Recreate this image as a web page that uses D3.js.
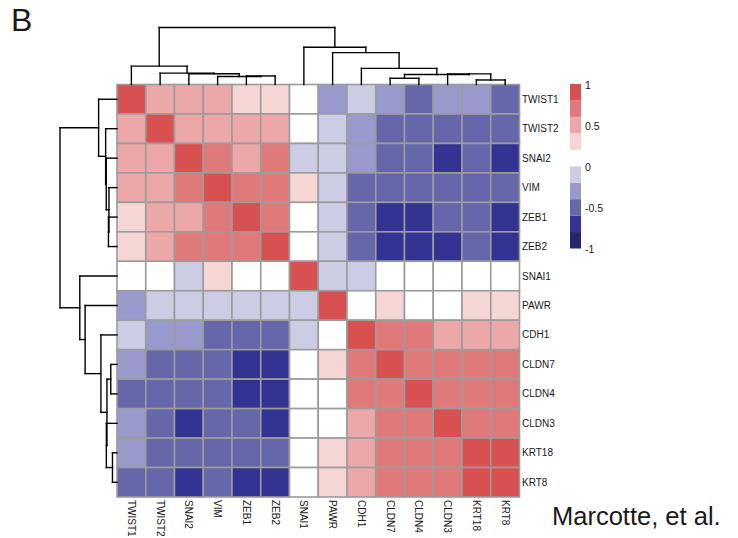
<!DOCTYPE html>
<html>
<head>
<meta charset="utf-8">
<script src="https://cdn.jsdelivr.net/npm/d3@7"></script>
<style>
  body { margin: 0; background: #fff; }
  svg { font-family: 'Liberation Sans', Arial, Helvetica, sans-serif; }
  .lbl { font-size: 10px; fill: #1a1a1a; }
</style>
</head>
<body>
<div id="heat"></div>
<script>
// gene order after clustering (rows and columns are the same)
const genes = ['TWIST1', 'TWIST2', 'SNAI2', 'VIM', 'ZEB1', 'ZEB2', 'SNAI1',
  'PAWR', 'CDH1', 'CLDN7', 'CLDN4', 'CLDN3', 'KRT18', 'KRT8']

// correlation matrix, read as the middle of each colour bin
const corr = [
  [1.0, 0.5, 0.5, 0.5, 0.3, 0.3, 0.1, -0.3, -0.1, -0.3, -0.5, -0.3, -0.3, -0.5],
  [0.5, 1.0, 0.5, 0.5, 0.5, 0.5, 0.1, -0.1, -0.3, -0.5, -0.5, -0.5, -0.5, -0.5],
  [0.5, 0.5, 1.0, 0.7, 0.5, 0.7, -0.1, -0.1, -0.3, -0.5, -0.5, -0.7, -0.5, -0.7],
  [0.5, 0.5, 0.7, 1.0, 0.7, 0.7, 0.3, -0.1, -0.5, -0.5, -0.5, -0.5, -0.5, -0.5],
  [0.3, 0.5, 0.5, 0.7, 1.0, 0.7, 0.1, -0.1, -0.5, -0.7, -0.7, -0.5, -0.5, -0.7],
  [0.3, 0.5, 0.7, 0.7, 0.7, 1.0, 0.1, -0.1, -0.5, -0.7, -0.7, -0.7, -0.5, -0.7],
  [0.1, 0.1, -0.1, 0.3, 0.1, 0.1, 1.0, -0.1, -0.1, 0.1, 0.1, 0.1, 0.1, 0.1],
  [-0.3, -0.1, -0.1, -0.1, -0.1, -0.1, -0.1, 1.0, 0.1, 0.3, 0.1, 0.1, 0.3, 0.3],
  [-0.1, -0.3, -0.3, -0.5, -0.5, -0.5, -0.1, 0.1, 1.0, 0.7, 0.7, 0.5, 0.5, 0.5],
  [-0.3, -0.5, -0.5, -0.5, -0.7, -0.7, 0.1, 0.3, 0.7, 1.0, 0.7, 0.7, 0.7, 0.7],
  [-0.5, -0.5, -0.5, -0.5, -0.7, -0.7, 0.1, 0.1, 0.7, 0.7, 1.0, 0.7, 0.7, 0.7],
  [-0.3, -0.5, -0.7, -0.5, -0.5, -0.7, 0.1, 0.1, 0.5, 0.7, 0.7, 1.0, 0.7, 0.7],
  [-0.3, -0.5, -0.5, -0.5, -0.5, -0.5, 0.1, 0.3, 0.5, 0.7, 0.7, 0.7, 1.0, 0.9],
  [-0.5, -0.5, -0.7, -0.5, -0.7, -0.7, 0.1, 0.3, 0.5, 0.7, 0.7, 0.7, 0.9, 1.0]
]

// dendrogram merges: [left, right, height]; numbers point to earlier merges
const merges = [
  ['ZEB1', 'ZEB2', 8.5],
  ['VIM', 0, 8.0],
  ['SNAI2', 1, 10.7],
  ['TWIST2', 2, 11.3],
  ['TWIST1', 3, 18.3],
  ['KRT18', 'KRT8', 4.5],
  ['CLDN7', 'CLDN4', 6.2],
  ['CLDN3', 5, 10.6],
  [6, 7, 10.0],
  ['CDH1', 8, 16.0],
  ['PAWR', 9, 31.7],
  ['SNAI1', 10, 37.0],
  [4, 11, 56.7]
]

const binEdges = [-0.8, -0.6, -0.4, -0.2, 0, 0.2, 0.4, 0.6, 0.8]
const binColors = ['#26266e', '#333394', '#6666aa', '#9999cc', '#ccccE4',
  '#ffffff', '#f6d5d5', '#eca8a8', '#e07a7a', '#d8504f']
const legendTicks = [1, 0.5, 0, -0.5, -1]

const svg = d3.select('#heat').append('svg')
  .attr('width', 738)
  .attr('height', 538)

const color = d3.scaleThreshold().domain(binEdges).range(binColors)

const x = d3.scaleBand().domain(genes).range([117, 519.5])
const y = d3.scaleBand().domain(genes).range([84.5, 497])

// cells
const cells = []
corr.forEach((row, i) => row.forEach((v, j) => cells.push({ r: genes[i], c: genes[j], v })))

svg.append('g')
  .selectAll('rect')
  .data(cells)
  .join('rect')
  .attr('x', d => x(d.c))
  .attr('y', d => y(d.r))
  .attr('width', x.bandwidth())
  .attr('height', y.bandwidth())
  .attr('fill', d => color(d.v))
  .attr('stroke', '#9c9c9c')
  .attr('stroke-width', 1.6)

// dendrograms
const rootH = d3.max(merges, m => m[2])
const hTop = d3.scaleLinear().domain([0, rootH]).range([84.5, 27.5])
const hLeft = d3.scaleLinear().domain([0, rootH]).range([117, 60])

function nodePos (n, band) {
  if (typeof n === 'string') return { c: band(n) + band.bandwidth() / 2, h: 0 }
  const m = merges[n]
  const a = nodePos(m[0], band)
  const b = nodePos(m[1], band)
  return { c: (a.c + b.c) / 2, h: m[2] }
}

function dendroSegments (band) {
  const segs = []
  merges.forEach(m => {
    const a = nodePos(m[0], band)
    const b = nodePos(m[1], band)
    segs.push([a.c, m[2], b.c, m[2]])
    segs.push([a.c, a.h, a.c, m[2]])
    segs.push([b.c, b.h, b.c, m[2]])
  })
  return segs
}

svg.append('g')
  .attr('class', 'dendro top')
  .selectAll('line')
  .data(dendroSegments(x))
  .join('line')
  .attr('x1', d => d[0]).attr('y1', d => hTop(d[1]))
  .attr('x2', d => d[2]).attr('y2', d => hTop(d[3]))
  .attr('stroke', '#000')
  .attr('stroke-width', 1.4)
  .attr('stroke-linecap', 'square')

svg.append('g')
  .attr('class', 'dendro left')
  .selectAll('line')
  .data(dendroSegments(y))
  .join('line')
  .attr('y1', d => d[0]).attr('x1', d => hLeft(d[1]))
  .attr('y2', d => d[2]).attr('x2', d => hLeft(d[3]))
  .attr('stroke', '#000')
  .attr('stroke-width', 1.4)
  .attr('stroke-linecap', 'square')

// row labels
svg.append('g')
  .selectAll('text')
  .data(genes)
  .join('text')
  .attr('class', 'lbl')
  .attr('x', 522)
  .attr('y', d => y(d) + y.bandwidth() / 2)
  .attr('dominant-baseline', 'central')
  .text(d => d)

// column labels, reading top to bottom
svg.append('g')
  .selectAll('text')
  .data(genes)
  .join('text')
  .attr('class', 'lbl')
  .attr('transform', d => 'translate(' + (x(d) + x.bandwidth() / 2) + ',500) rotate(90)')
  .attr('dominant-baseline', 'central')
  .text(d => d)

// legend
const legendScale = d3.scaleLinear().domain([-1, 1]).range([248.5, 84])
const legendBins = binColors.map((c, i) => ({
  lo: i === 0 ? -1 : binEdges[i - 1],
  hi: i === binColors.length - 1 ? 1 : binEdges[i],
  c
}))

svg.append('g')
  .selectAll('rect')
  .data(legendBins)
  .join('rect')
  .attr('x', 570)
  .attr('y', d => legendScale(d.hi))
  .attr('width', 11)
  .attr('height', d => legendScale(d.lo) - legendScale(d.hi))
  .attr('fill', d => d.c)

svg.append('g')
  .attr('transform', 'translate(581,1)')
  .call(d3.axisRight(legendScale).tickValues(legendTicks).tickSize(0).tickPadding(4).tickFormat(d => String(d)))
  .call(g => g.select('.domain').remove())
  .selectAll('text')
  .attr('class', 'lbl')
  .style('font-size', '10.5px')
  .style('font-family', "'Liberation Sans', Arial, Helvetica, sans-serif")

// panel letter and credit
svg.append('text')
  .attr('x', 11)
  .attr('y', 31)
  .style('font-size', '32px')
  .attr('fill', '#1a1a1a')
  .text('B')

svg.append('text')
  .attr('x', 552)
  .attr('y', 525)
  .style('font-size', '25.5px')
  .attr('fill', '#1a1a1a')
  .text('Marcotte, et al.')
</script>
</body>
</html>
